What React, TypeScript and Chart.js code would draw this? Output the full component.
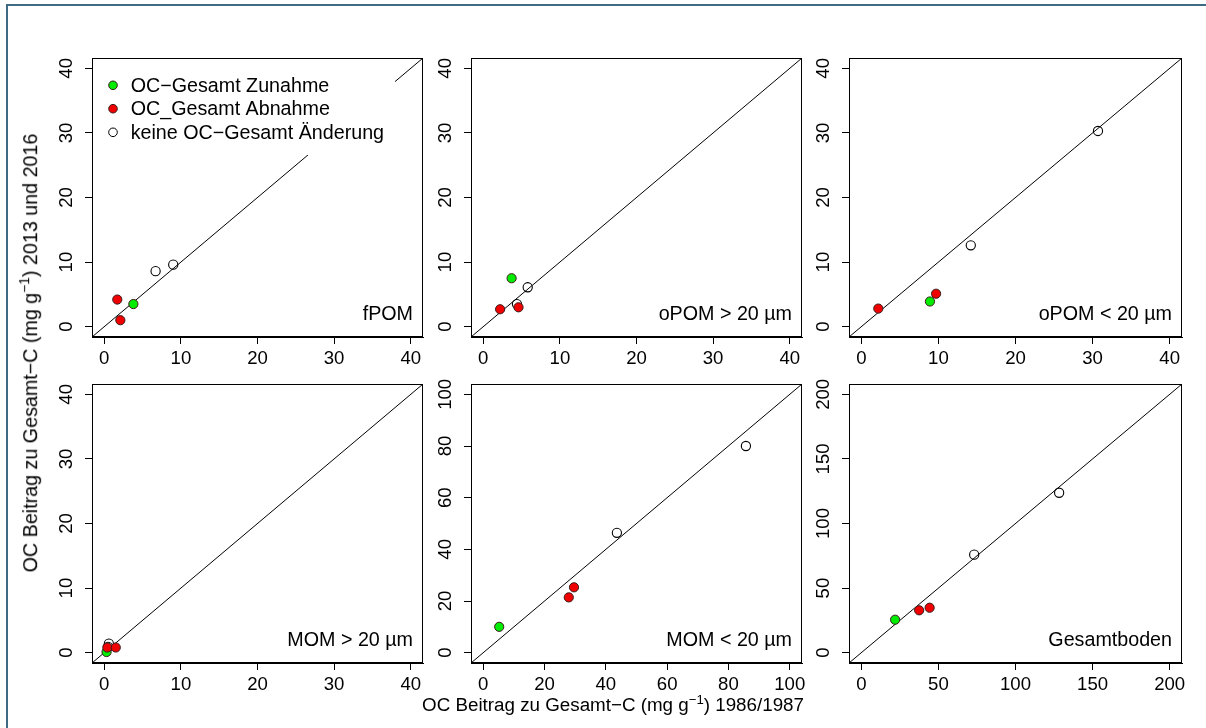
import React, { useEffect, useRef } from "react";
import { Chart, registerables } from "chart.js";

Chart.register(...registerables);

const PAGE_W = 1206;
const PAGE_H = 728;
const FONT = "'Liberation Sans', Arial, Helvetica, sans-serif";
const TICK_SIZE = 18.6;
const TEXT_SIZE = 19.7;

// ---- data ----
const panelNames = ["fPOM", "oPOM > 20 µm", "oPOM < 20 µm", "MOM > 20 µm", "MOM < 20 µm", "Gesamtboden"];
const axisMax = [40, 40, 40, 40, 100, 200];
const ticks40 = [0, 10, 20, 30, 40];
const ticks100 = [0, 20, 40, 60, 80, 100];
const ticks200 = [0, 50, 100, 150, 200];
const panelTicks = [ticks40, ticks40, ticks40, ticks40, ticks100, ticks200];

const legendLabels = ["OC−Gesamt Zunahme", "OC_Gesamt Abnahme", "keine OC−Gesamt Änderung"];

// OC-Gesamt Zunahme (green)
const zunahmeX = [3.8, 3.7, 8.9, 0.3, 5.2, 21.9];
const zunahmeY = [3.5, 7.5, 3.9, 0.1, 10.0, 25.5];
// OC_Gesamt Abnahme (red)
const abnahmeX = [[1.7, 2.1], [2.2, 4.6], [2.2, 9.7], [0.4, 1.5], [27.9, 29.6], [37.5, 44.3]];
const abnahmeY = [[4.2, 1.0], [2.7, 3.0], [2.8, 5.1], [0.8, 0.8], [21.4, 25.3], [32.8, 34.8]];
// keine OC-Gesamt Änderung (open)
const keineX = [[6.7, 9.0], [4.4, 5.8], [14.2, 30.7], [0.6, 0.5], [43.6, 85.7], [73.2, 128.3]];
const keineY = [[8.6, 9.6], [3.5, 6.1], [12.6, 30.3], [1.4, 0.9], [46.4, 80.0], [75.9, 123.8]];

const xTitle = "OC Beitrag zu Gesamt−C (mg g";
const xTitleEnd = ") 1986/1987";
const yTitle = "OC Beitrag zu Gesamt−C (mg g";
const yTitleEnd = ") 2013 und 2016";

// ---- layout ----
const boxLeft = [92, 471, 849];
const boxRight = [423, 802, 1182];
const boxTop = [58, 384];
const boxBottom = [337, 663];
const Y_W = 44;
const X_H = 44;

const GREEN = "#00ec00";
const RED = "#f00000";
const EDGE = "#3a1a1a";
const PT_R = 4.6;

function makeChart(canvas: HTMLCanvasElement, i: number) {
  const c = i % 3;
  const r = Math.floor(i / 3);
  const left = boxLeft[c];
  const right = boxRight[c];
  const top = boxTop[r];
  const bottom = boxBottom[r];
  const max = axisMax[i];
  const lo = -0.04 * max;
  const hi = 1.04 * max;
  const tv = panelTicks[i];
  const digits = String(tv[tv.length - 1]).length;
  const yPad = 18 - (digits * 0.556 * TICK_SIZE) / 2;

  const decor = {
    id: "decor" + i,
    afterDatasetsDraw(chart: any) {
      if (i !== 0) return;
      const { ctx, chartArea } = chart;
      const L = chartArea.left;
      const T = chartArea.top;
      ctx.save();
      ctx.fillStyle = "#ffffff";
      ctx.fillRect(L + 1, T + 1, 302, 96);
      const rows = [27.3, 50.7, 74.3];
      const fills = [GREEN, RED, "rgba(0,0,0,0)"];
      const edges = [EDGE, EDGE, "#000"];
      ctx.font = `${TEXT_SIZE}px ${FONT}`;
      ctx.textBaseline = "middle";
      ctx.textAlign = "left";
      for (let k = 0; k < 3; k++) {
        ctx.beginPath();
        ctx.arc(L + 21, T + rows[k], 4.3, 0, Math.PI * 2);
        ctx.fillStyle = fills[k];
        ctx.fill();
        ctx.lineWidth = 1;
        ctx.strokeStyle = edges[k];
        ctx.stroke();
        ctx.fillStyle = "#000";
        ctx.fillText(legendLabels[k], L + 38.7, T + rows[k] + 1);
      }
      ctx.restore();
    },
    afterDraw(chart: any) {
      const { ctx, chartArea } = chart;
      ctx.save();
      ctx.strokeStyle = "#000";
      ctx.lineWidth = 1;
      ctx.strokeRect(
        chartArea.left + 0.5,
        chartArea.top + 0.5,
        chartArea.right - chartArea.left - 1,
        chartArea.bottom - chartArea.top - 1
      );
      ctx.fillStyle = "#000";
      ctx.font = `${TEXT_SIZE}px ${FONT}`;
      ctx.textAlign = "right";
      ctx.textBaseline = "middle";
      ctx.fillText(panelNames[i], chartArea.right - 10, chartArea.bottom - 22.5);
      ctx.restore();
    },
  };

  const tickFont = { family: FONT, size: TICK_SIZE };

  return new Chart(canvas, {
    type: "scatter",
    data: {
      datasets: [
        {
          label: legendLabels[1],
          data: abnahmeX[i].map((x, k) => ({ x, y: abnahmeY[i][k] })),
          backgroundColor: RED,
          borderColor: EDGE,
          borderWidth: 1,
          pointRadius: PT_R,
        },
        {
          label: legendLabels[0],
          data: [{ x: zunahmeX[i], y: zunahmeY[i] }],
          backgroundColor: GREEN,
          borderColor: EDGE,
          borderWidth: 1,
          pointRadius: PT_R,
        },
        {
          label: legendLabels[2],
          data: keineX[i].map((x, k) => ({ x, y: keineY[i][k] })),
          backgroundColor: "rgba(0,0,0,0)",
          borderColor: "#000",
          borderWidth: 1.1,
          pointRadius: PT_R,
        },
        {
          type: "line",
          label: "1:1",
          data: [
            { x: lo, y: lo },
            { x: hi, y: hi },
          ],
          borderColor: "#000",
          borderWidth: 1,
          pointRadius: 0,
          showLine: true,
          fill: false,
        } as any,
      ],
    },
    options: {
      responsive: false,
      animation: false,
      events: [],
      layout: {
        padding: {
          left: left - Y_W,
          top: top,
          right: PAGE_W - right,
          bottom: PAGE_H - bottom - X_H,
        },
      },
      plugins: {
        legend: { display: false },
        tooltip: { enabled: false },
      },
      scales: {
        x: {
          type: "linear",
          min: lo,
          max: hi,
          afterBuildTicks: (s: any) => {
            s.ticks = tv.map((v) => ({ value: v }));
          },
          afterFit: (s: any) => {
            s.height = X_H;
          },
          ticks: {
            font: tickFont,
            color: "#000",
            padding: 3.3,
            minRotation: 0,
            maxRotation: 0,
            autoSkip: false,
          },
          grid: {
            drawOnChartArea: false,
            drawTicks: true,
            tickLength: 7,
            color: "#000",
            lineWidth: 1,
          },
          border: { display: true, color: "#000", width: 1 },
        },
        y: {
          type: "linear",
          min: lo,
          max: hi,
          afterBuildTicks: (s: any) => {
            s.ticks = tv.map((v) => ({ value: v }));
          },
          afterFit: (s: any) => {
            s.width = Y_W;
          },
          ticks: {
            font: tickFont,
            color: "#000",
            padding: yPad,
            minRotation: 90,
            maxRotation: 90,
            crossAlign: "center",
            autoSkip: false,
          },
          grid: {
            drawOnChartArea: false,
            drawTicks: true,
            tickLength: 7,
            color: "#000",
            lineWidth: 1,
          },
          border: { display: true, color: "#000", width: 1 },
        },
      },
    } as any,
    plugins: [decor],
  });
}

const supStyle: React.CSSProperties = {
  fontSize: "0.7em",
  position: "relative",
  top: "-0.55em",
  verticalAlign: "baseline",
};

export default function App() {
  const refs = useRef<(HTMLCanvasElement | null)[]>([]);

  useEffect(() => {
    const charts = refs.current.map((cv, i) => (cv ? makeChart(cv, i) : null));
    return () => {
      charts.forEach((ch) => ch && ch.destroy());
    };
  }, []);

  return (
    <div
      style={{
        position: "absolute",
        left: 0,
        top: 0,
        width: PAGE_W,
        height: PAGE_H,
        background: "#fff",
        overflow: "hidden",
        fontFamily: FONT,
      }}
    >
      <div
        style={{
          position: "absolute",
          left: 6,
          top: 4,
          width: PAGE_W + 20,
          height: PAGE_H + 20,
          border: "2.5px solid #3f6a83",
          boxSizing: "border-box",
        }}
      />
      {panelNames.map((_, i) => (
        <canvas
          key={i}
          ref={(el) => {
            refs.current[i] = el;
          }}
          width={PAGE_W}
          height={PAGE_H}
          style={{ position: "absolute", left: 0, top: 0, width: PAGE_W, height: PAGE_H, pointerEvents: "none" }}
        />
      ))}
      <div
        style={{
          position: "absolute",
          left: 613,
          top: 705,
          transform: "translate(-50%, -50%)",
          whiteSpace: "nowrap",
          fontSize: 18.8,
          lineHeight: 1,
          color: "#000",
        }}
      >
        {xTitle}
        <span style={supStyle}>−1</span>
        {xTitleEnd}
      </div>
      <div
        style={{
          position: "absolute",
          left: 30.7,
          top: 352.5,
          transform: "translate(-50%, -50%) rotate(-90deg)",
          whiteSpace: "nowrap",
          fontSize: 19.7,
          lineHeight: 1,
          color: "#000",
        }}
      >
        {yTitle}
        <span style={supStyle}>−1</span>
        {yTitleEnd}
      </div>
    </div>
  );
}
